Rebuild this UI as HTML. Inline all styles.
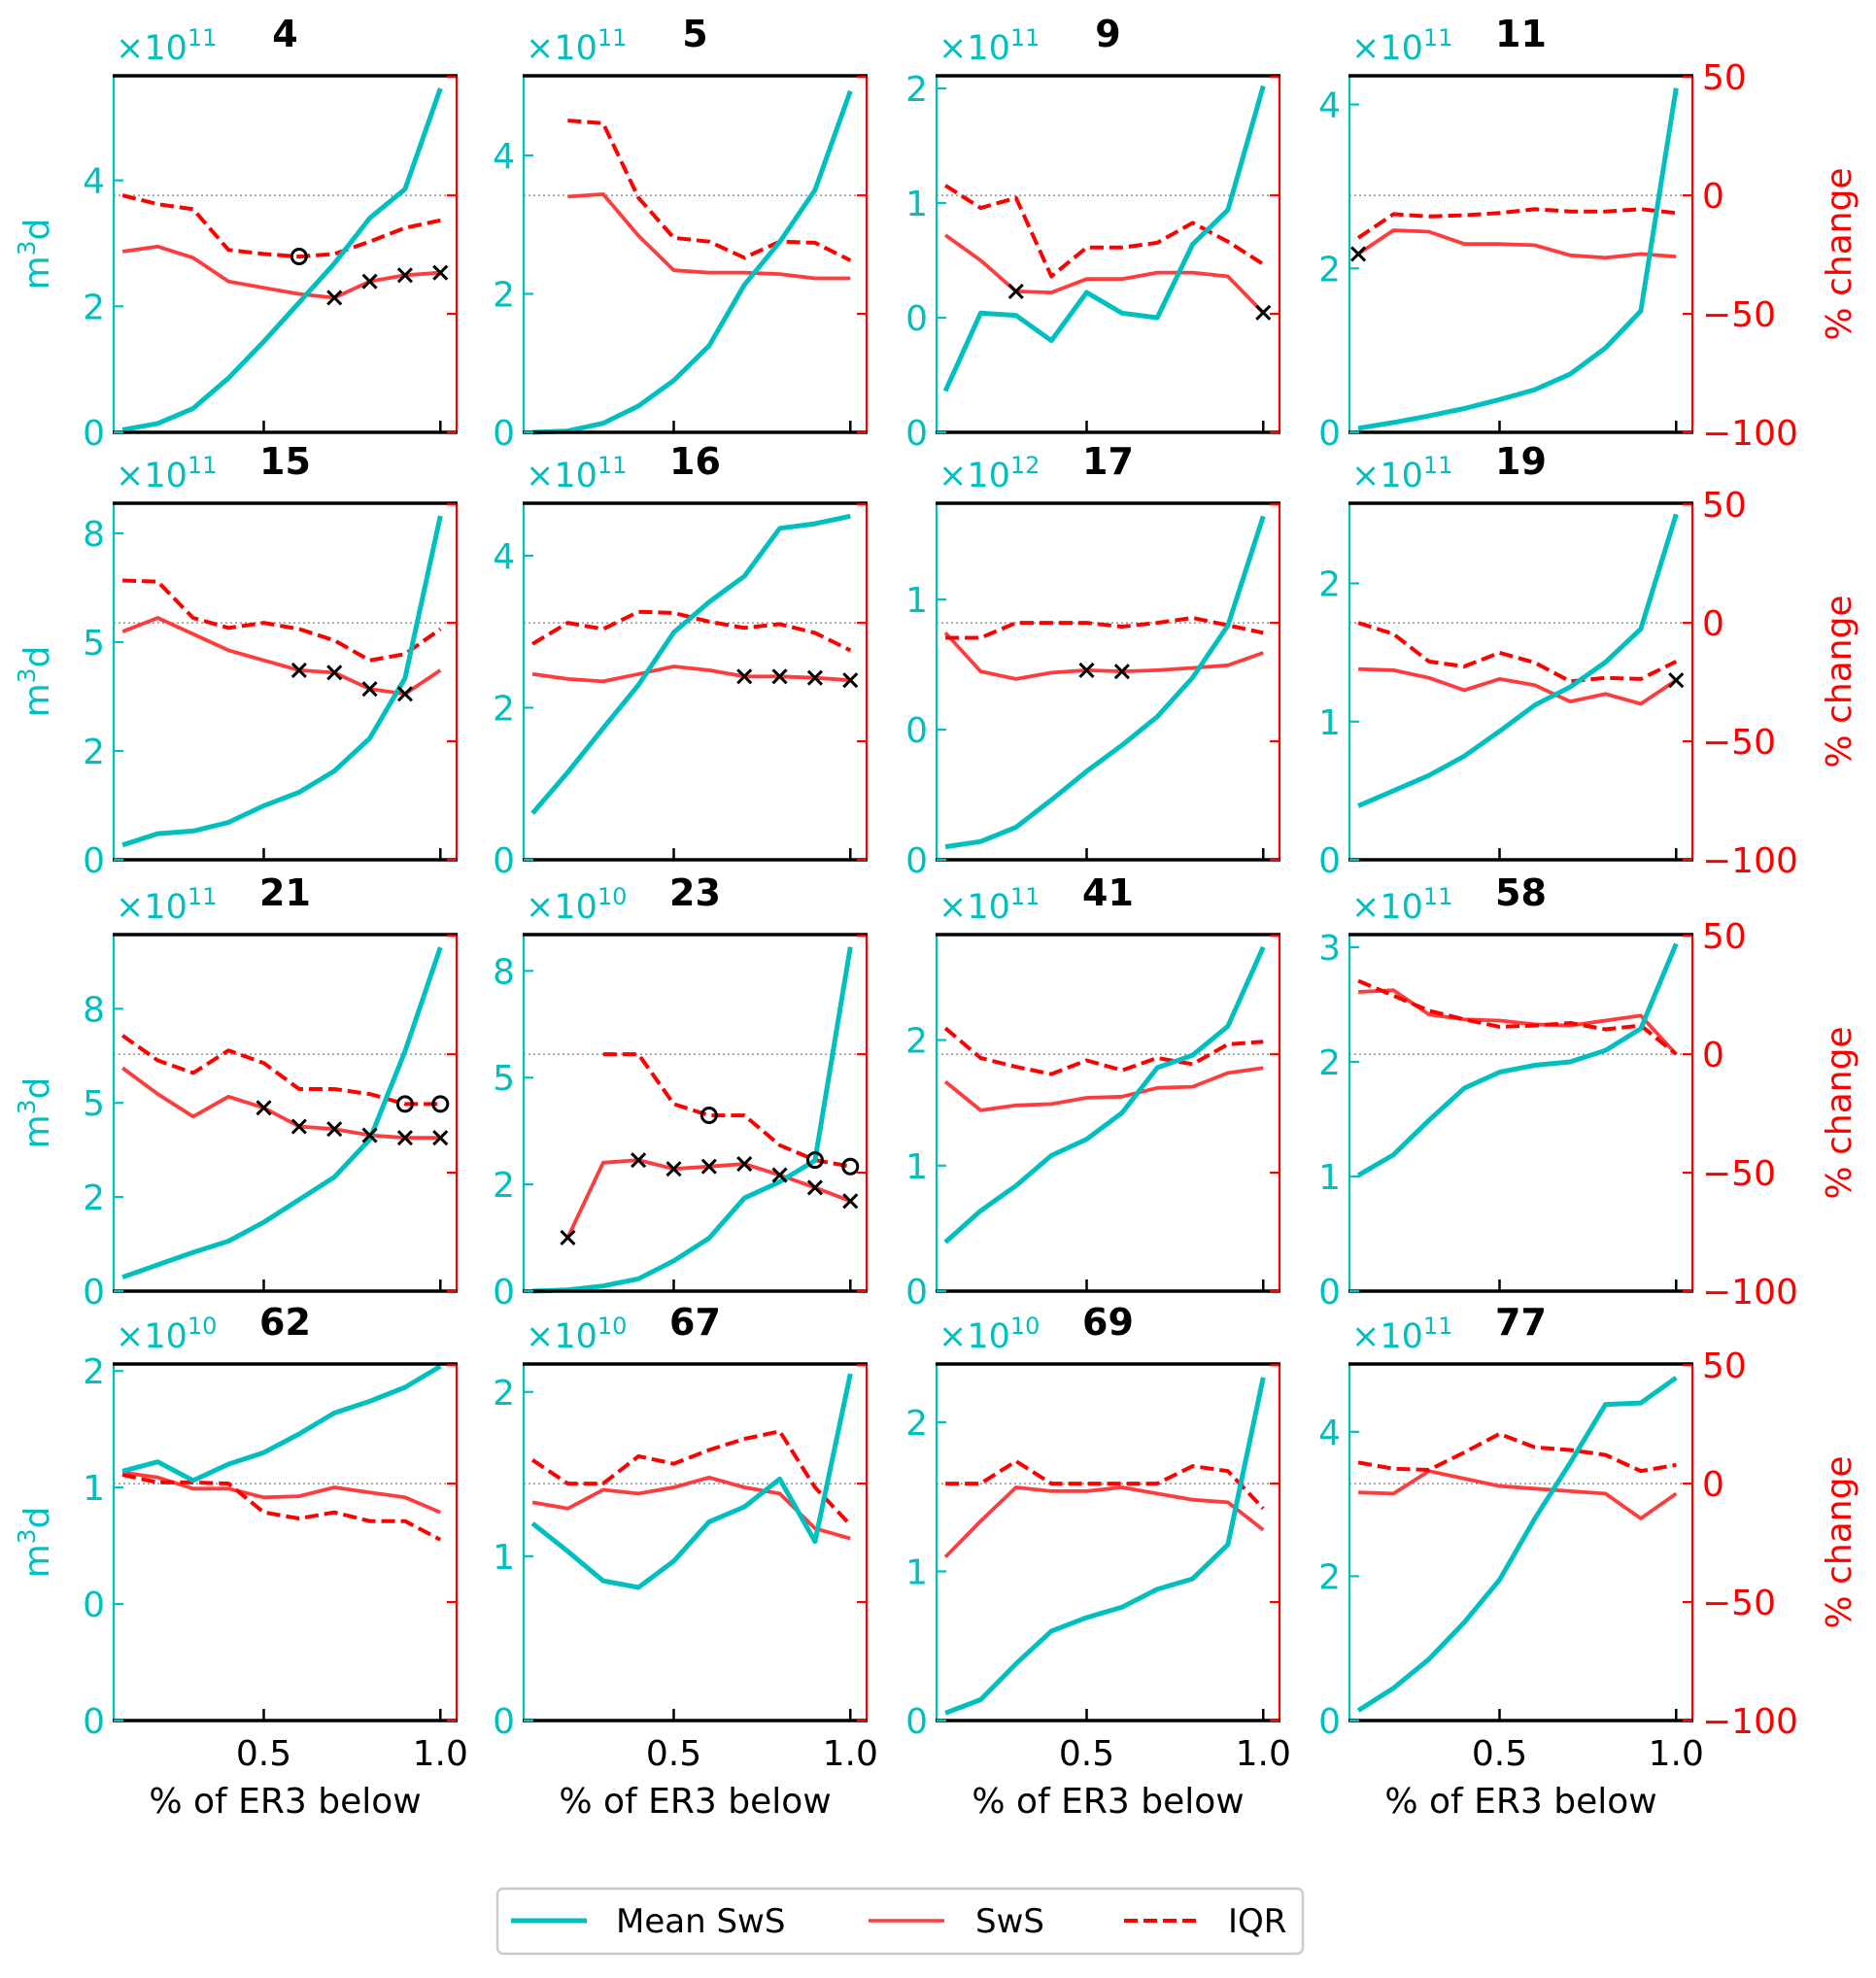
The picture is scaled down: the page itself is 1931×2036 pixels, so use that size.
<!DOCTYPE html>
<html><head><meta charset="utf-8"><style>
html,body{margin:0;padding:0;background:#fff;}
svg{display:block;font-family:"DejaVu Sans","Liberation Sans",sans-serif;}
</style></head><body>
<svg id="fig" width="1931" height="2036" viewBox="0 0 1931 2036" xmlns="http://www.w3.org/2000/svg">
<g id="panels"></g>
<g id="legend">
  <rect x="512" y="1944" width="829" height="67" rx="6" fill="#fff" stroke="#ccc" stroke-width="2.5"/>
  <g>
    <line x1="526" y1="1977" x2="604" y2="1977" stroke="#00bfbf" stroke-width="5"/>
    <text x="634" y="1989" font-size="34" fill="#000">Mean SwS</text>
  </g>
  <g>
    <line x1="894" y1="1977" x2="972" y2="1977" stroke="#ff3b3b" stroke-width="3.5"/>
    <text x="1004" y="1989" font-size="34" fill="#000">SwS</text>
  </g>
  <g>
    <line x1="1157" y1="1977" x2="1235" y2="1977" stroke="#ff0000" stroke-width="4" stroke-dasharray="14,6"/>
    <text x="1264" y="1989" font-size="34" fill="#000">IQR</text>
  </g>
</g>
</svg>
<script>
const panelTitles = ["4","5","9","11","15","16","17","19","21","23","41","58","62","67","69","77"];
const panelExponents = ["11","11","11","11","11","11","12","11","11","10","11","11","10","10","10","11"];
const xValues = [0.1,0.2,0.3,0.4,0.5,0.6,0.7,0.8,0.9,1.0];
const xTickValues = [0.5,1.0];
const xTickLabels = ["0.5","1.0"];
const rightTickValues = [-100,-50,0,50];
const rightTickLabels = ["\u2212100","\u221250","0","50"];
const yMax = [5.66,5.15,1.555,4.35, 8.19,4.69,1.37,2.58, 9.47,8.35,2.84,3.11, 1.53,2.17,2.39,4.94];
const yTickValues = [
 [0,2,4],[0,2,4],[0,0.5,1,1.5],[0,2,4],
 [0,2.5,5,7.5],[0,2,4],[0,0.5,1],[0,1,2],
 [0,2.5,5,7.5],[0,2.5,5,7.5],[0,1,2],[0,1,2,3],
 [0,0.5,1,1.5],[0,1,2],[0,1,2],[0,2,4]];
const yTickLabels = [
 ["0","2","4"],["0","2","4"],["0","0","1","2"],["0","2","4"],
 ["0","2","5","8"],["0","2","4"],["0","0","1"],["0","1","2"],
 ["0","2","5","8"],["0","2","5","8"],["0","1","2"],["0","1","2","3"],
 ["0","0","1","2"],["0","1","2"],["0","1","2"],["0","2","4"]];
const meanSeries = [
 [0.04,0.14,0.38,0.86,1.44,2.06,2.68,3.4,3.86,5.46],
 [0,0.02,0.13,0.38,0.75,1.25,2.13,2.75,3.5,4.93],
 [0.18,0.52,0.51,0.40,0.61,0.52,0.50,0.82,0.97,1.51],
 [0.05,0.12,0.2,0.29,0.4,0.52,0.71,1.03,1.48,4.2],
 [0.34,0.6,0.66,0.86,1.24,1.55,2.04,2.79,4.17,7.9],
 [0.61,1.15,1.73,2.3,2.99,3.39,3.73,4.36,4.42,4.52],
 [0.05,0.07,0.125,0.23,0.34,0.44,0.55,0.70,0.9,1.32],
 [0.39,0.5,0.61,0.75,0.93,1.12,1.25,1.43,1.67,2.5],
 [0.37,0.7,1.03,1.33,1.83,2.43,3.03,4.03,6.37,9.13],
 [0,0.03,0.12,0.29,0.71,1.24,2.18,2.56,3.06,8.06],
 [0.39,0.64,0.84,1.08,1.21,1.42,1.78,1.88,2.11,2.74],
 [1.01,1.19,1.49,1.77,1.91,1.97,2.0,2.1,2.29,3.03],
 [1.07,1.11,1.03,1.10,1.15,1.23,1.32,1.37,1.43,1.52],
 [1.2,1.03,0.85,0.81,0.97,1.21,1.30,1.47,1.09,2.11],
 [0.05,0.14,0.38,0.6,0.69,0.76,0.88,0.95,1.18,2.3],
 [0.14,0.45,0.85,1.36,1.95,2.8,3.57,4.38,4.4,4.75]];
const swsSeries = [
 [-23.7,-21.6,-26.3,-36.3,-39,-41.6,-43.2,-36.3,-33.7,-32.6],
 [null,-0.5,0.5,-17,-31.6,-32.6,-32.6,-33.2,-35,-35],
 [-16.8,-27.4,-40.5,-41,-35.3,-35.3,-32.6,-32.6,-34.2,-49.5],
 [-24.7,-14.7,-15.3,-20.5,-20.5,-21,-25.3,-26.3,-24.7,-25.8],
 [-3.7,2.1,-4.7,-11.6,-15.8,-20,-21,-27.9,-30,-20],
 [-21.6,-23.7,-24.7,-21.6,-18.4,-20,-22.6,-22.6,-23.2,-24.2],
 [-4.2,-20.5,-23.7,-21,-20,-20.5,-20,-19,-17.9,-12.6],
 [-19.5,-20,-23.2,-28.4,-23.7,-26.3,-33.2,-30,-34.2,-24.2],
 [-5.8,-16.8,-26.3,-17.9,-22.6,-30.5,-31.6,-34.2,-35.3,-35.3],
 [null,-77.4,-45.8,-44.7,-48.4,-47.4,-46.3,-51,-56.3,-62],
 [-11.6,-23.7,-21.6,-21,-18.4,-17.9,-14.2,-13.7,-7.9,-5.8],
 [26.3,27,16.8,14.7,14.2,12.6,12.1,14.2,16.3,0],
 [4.7,2.6,-2.1,-2.1,-5.8,-5.3,-1.6,-3.7,-5.8,-12.1],
 [-7.9,-10.5,-2.6,-4.2,-1.6,2.6,-1.6,-4.2,-18.9,-23.2],
 [-31,-15.8,-1.6,-3.2,-3.2,-1.6,-4.2,-6.8,-7.9,-19.5],
 [-3.7,-4.2,5.3,2.1,-1,-2.1,-3.2,-4.2,-14.7,-4.2]];
const iqrSeries = [
 [0,-3.7,-5.8,-23,-24.7,-25.8,-24.7,-19.5,-13.7,-10.5],
 [null,31.6,30.5,-1,-17.9,-19.5,-26.3,-19.5,-20,-27.4],
 [4.2,-5.3,-1,-34.2,-22,-22,-20,-11.6,-19.5,-29],
 [-17.9,-7.9,-8.9,-8.4,-7.4,-5.8,-6.8,-6.8,-5.8,-7.4],
 [17.9,17.4,2.1,-2.1,0,-2.6,-7.4,-15.8,-13.2,-2.6],
 [-8.9,0,-2.6,4.7,4.2,0.5,-2.1,-0.5,-4.2,-11.6],
 [-6.3,-6.3,0,0,0,-1.6,0,2.1,-1,-4.2],
 [0,-4.7,-16.3,-18.4,-12.6,-16.8,-24.7,-23.2,-23.7,-16.3],
 [7.9,-2.6,-7.9,1.6,-3.7,-14.7,-14.7,-16.8,-21,-21],
 [null,null,0,0,-21,-25.8,-25.8,-38.4,-44.7,-47.4],
 [11,-1.6,-5.3,-8.4,-2.6,-6.8,-1.6,-4.2,4.2,5.3],
 [31,24.7,18.4,14.7,11.6,12.1,13.2,10.5,12.1,0],
 [3.7,0.5,0.5,0,-12.1,-14.7,-12.1,-15.8,-15.8,-23.7],
 [10,0,0,11.6,8.4,14.2,18.9,22.1,-1.6,-17.4],
 [0,0,9.5,0,0,0,0,7.4,5.3,-10.5],
 [8.9,6.3,5.8,13.2,21,15.3,14.2,12.1,5.3,7.9]];
const crossIdx = [[6,7,8,9],[],[2,9],[0],[5,6,7,8],[6,7,8,9],[4,5],[9],[4,5,6,7,8,9],[1,3,4,5,6,7,8,9],[],[],[],[],[],[]];
const circleIdx = [[5],[],[],[],[],[],[],[],[8,9],[5,8,9],[],[],[],[],[],[]];

const NS="http://www.w3.org/2000/svg";
const colLeft=[117,539,964,1389], rowTop=[78,518,962,1404];
const PW=353, PH=367;
const XMIN=0.075, XMAX=1.046, PMIN=-100, PMAX=50.5;
const CY="#00bfbf", RD="#ff0000", SWS="#ff3b3b";
function mk(tag,attrs,parent){const e=document.createElementNS(NS,tag);for(const k in attrs)e.setAttribute(k,attrs[k]);parent.appendChild(e);return e;}
const root=document.getElementById('panels');

panelTitles.forEach((title,i)=>{
  const c=i%4, r=Math.floor(i/4);
  const L=colLeft[c], T=rowTop[r], R=L+PW, B=T+PH;
  const xs=v=>L+(v-XMIN)/(XMAX-XMIN)*PW;
  const ys=v=>B-v/yMax[i]*PH;
  const ps=v=>B-(v-PMIN)/(PMAX-PMIN)*PH;
  const g=mk('g',{},root);
  
  
  const zl=mk('line',{x1:L,x2:R,y1:ps(0),y2:ps(0),stroke:'#999','stroke-width':1.6,'stroke-dasharray':'2,3'},g);
  
  
  function series(vals,scale,attrs,name){
    let d='';let started=false;
    vals.forEach((v,k)=>{if(v===null){return;}d+=(started?'L':'M')+xs(xValues[k]).toFixed(1)+','+scale(v).toFixed(1);started=true;});
    const p=mk('path',Object.assign({d:d,fill:'none','stroke-linejoin':'round'},attrs),g);
    
    
  }
  series(swsSeries[i],ps,{stroke:SWS,'stroke-width':3.8},'sws-line');
  series(iqrSeries[i],ps,{stroke:RD,'stroke-width':4,'stroke-dasharray':'14,6'},'iqr-line');
  series(meanSeries[i],ys,{stroke:CY,'stroke-width':5},'mean-sws-line');
  crossIdx[i].forEach(k=>{
    const x=xs(xValues[k]), y=ps(swsSeries[i][k]);
    const m=mk('path',{d:`M${x-7},${y-7}L${x+7},${y+7}M${x-7},${y+7}L${x+7},${y-7}`,stroke:'#000','stroke-width':3},g);
    
    
  });
  circleIdx[i].forEach(k=>{
    const x=xs(xValues[k]), y=ps(iqrSeries[i][k]);
    const m=mk('circle',{cx:x,cy:y,r:7.5,fill:'none',stroke:'#000','stroke-width':3},g);
    
    
  });
  const sl=mk('line',{x1:L,x2:L,y1:T,y2:B,stroke:CY,'stroke-width':2.2},g);
  
  const sr=mk('line',{x1:R,x2:R,y1:T,y2:B,stroke:RD,'stroke-width':2.2},g);
  
  const st=mk('line',{x1:L-1,x2:R+1,y1:T,y2:T,stroke:'#000','stroke-width':3.5},g);
  
  const sb=mk('line',{x1:L-1,x2:R+1,y1:B,y2:B,stroke:'#000','stroke-width':3.5},g);
  
  yTickValues[i].forEach((v,k)=>{
    const y=ys(v);
    mk('line',{x1:L,x2:L+10,y1:y,y2:y,stroke:CY,'stroke-width':2.2},g);
    const t=mk('text',{x:L-9,y:y+13,'text-anchor':'end','font-size':36,fill:CY},g);
    t.textContent=yTickLabels[i][k];
    
    
  });
  rightTickValues.forEach((v,k)=>{
    const y=ps(v);
    mk('line',{x1:R,x2:R-10,y1:y,y2:y,stroke:RD,'stroke-width':2.2},g);
    if(c===3){
      const t=mk('text',{x:R+10,y:y+13,'font-size':36,fill:RD},g);
      t.textContent=rightTickLabels[k];
      
      
    }
  });
  xTickValues.forEach((v,k)=>{
    const x=xs(v);
    mk('line',{x1:x,x2:x,y1:B,y2:B-12,stroke:'#000','stroke-width':2.5},g);
    if(r===3){
      const t=mk('text',{x:x,y:B+46,'text-anchor':'middle','font-size':36,fill:'#000'},g);
      t.textContent=xTickLabels[k];
      
      
    }
  });
  const ex=mk('text',{x:L+2,y:T-17,'font-size':35,fill:CY},g);
  ex.innerHTML='\u00d710<tspan font-size="24" dy="-14">'+panelExponents[i]+'</tspan>';
  
  
  const tt=mk('text',{x:L+PW/2,y:T-30,'text-anchor':'middle','font-size':38,'font-weight':'bold',fill:'#000'},g);
  tt.textContent=title;
  
  
  if(c===0){
    const yl=mk('text',{x:0,y:0,'text-anchor':'middle','font-size':36,fill:CY,transform:`translate(50,${T+PH/2}) rotate(-90)`},g);
    yl.innerHTML='m<tspan font-size="25" dy="-14">3</tspan><tspan dy="14">d</tspan>';
    
    
  }
  if(c===3){
    const yr=mk('text',{x:0,y:0,'text-anchor':'middle','font-size':36,fill:RD,transform:`translate(1905,${T+PH/2}) rotate(-90)`},g);
    yr.textContent='% change';
    
    
  }
  if(r===3){
    const xl=mk('text',{x:L+PW/2,y:1866,'text-anchor':'middle','font-size':36,fill:'#000'},g);
    xl.textContent='% of ER3 below';
    
    
  }
});
</script>
</body></html>
